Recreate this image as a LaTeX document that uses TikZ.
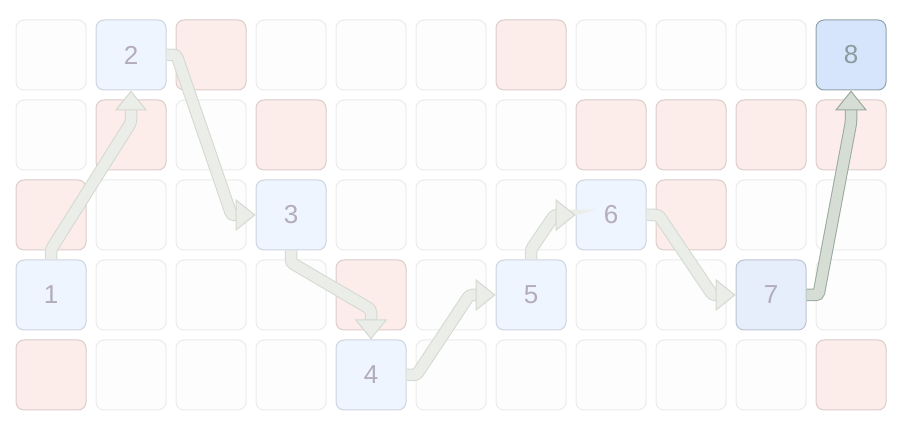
\documentclass[tikz,border=0pt]{standalone}
\usepackage{fontspec}
\setmainfont{Liberation Sans}
\usetikzlibrary{arrows.meta}

\definecolor{cellfill}{HTML}{FDFDFD}
\definecolor{cellline}{HTML}{EBEBEB}
\definecolor{redfill}{HTML}{FCECEA}
\definecolor{redline}{HTML}{DCCCCC}
\definecolor{bluefill}{HTML}{EFF5FF}
\definecolor{blueline}{HTML}{CDD4E0}
\definecolor{lastfill}{HTML}{E6EEFC}
\definecolor{lastline}{HTML}{BCC4D4}
\definecolor{goalfill}{HTML}{D6E5FB}
\definecolor{goalline}{HTML}{8FA3AB}
\definecolor{numtext}{HTML}{B4ACBC}
\definecolor{goaltext}{HTML}{8C9C9C}
\definecolor{arrowfill}{HTML}{EAEDE8}
\definecolor{arrowline}{HTML}{D3D9D0}
\definecolor{darkfill}{HTML}{D5DDD5}
\definecolor{darkline}{HTML}{9AAA9E}

\tikzset{
    cell/.style={draw=cellline, fill=cellfill, rounded corners=8pt, minimum size=70pt, inner sep=0pt, line width=1pt},
    kind e/.style={cell},
    kind r/.style={cell, draw=redline, fill=redfill},
    visited/.style={cell, draw=blueline, fill=bluefill, text=numtext, font=\fontsize{26}{30}\selectfont},
    goal/.style={visited, draw=goalline, fill=goalfill, text=goaltext},
    hop/.style 2 args={line width=10.5pt, draw=#2, rounded corners=3pt,
        preaction={draw=#1, line width=12.5pt, shorten >=11pt, arrows=-},
        -{Triangle[width=32pt, length=20pt, line width=1pt, color=#1, fill=#2]}},
}

\begin{document}
\begin{tikzpicture}[x=1pt, y=-1pt]
    \useasboundingbox (0,0) rectangle (903,430);
    % Draw the grid (n = cell on the path, drawn below)
    \foreach \row [count=\r from 0] in {{e,n,r,e,e,e,r,e,e,e,n},{e,r,e,r,e,e,e,r,r,r,r},{r,e,e,n,e,e,e,n,r,e,e},{n,e,e,e,r,e,n,e,e,n,e},{r,e,e,e,n,e,e,e,e,e,r}}{
        \foreach \k [count=\c from 0] in \row {
            \if n\k\else
                \node[kind \k] (c\c-\r) at ({51+80*\c},{55+80*\r}) {};
            \fi
        }
    }
    % Draw the cells on the path
    \node[visited] (n1) at (51,295) {1};
    \node[visited] (n2) at (131,55) {2};
    \node[visited] (n3) at (291,215) {3};
    \node[visited] (n4) at (371,375) {4};
    \node[visited] (n5) at (531,295) {5};
    \node[visited] (n6) at (611,215) {6};
    \node[visited, draw=lastline, fill=lastfill] (n7) at (771,295) {7};
    \node[goal] (n8) at (851,55) {8};
    % Draw the hops
    \draw[hop={arrowline}{arrowfill}] (n1.north) -- ([yshift=10pt]n1.north) -- ([yshift=-32pt]n2.south) -- (n2.south);
    \draw[hop={arrowline}{arrowfill}] (n2.east) -- ([xshift=10pt]n2.east) -- ([xshift=-24pt]n3.west) -- (n3.west);
    \draw[hop={arrowline}{arrowfill}] (n3.south) -- ([yshift=-12pt]n3.south) -- ([yshift=30pt]n4.north) -- (n4.north);
    \draw[hop={arrowline}{arrowfill}] (n4.east) -- ([xshift=10pt]n4.east) -- ([xshift=-26pt]n5.west) -- (n5.west);
    \draw[hop={arrowline}{arrowfill}] (n5.north) -- ([yshift=10pt]n5.north) -- ([xshift=-21pt]n6.west) -- (n6.west);
    \draw[hop={arrowline}{arrowfill}] (n6.east) -- ([xshift=12pt]n6.east) -- ([xshift=-23pt]n7.west) -- (n7.west);
    \draw[hop={darkline}{darkfill}] (n7.east) -- ([xshift=12pt]n7.east) -- ([yshift=-32pt]n8.south) -- (n8.south);
\end{tikzpicture}
\end{document}
